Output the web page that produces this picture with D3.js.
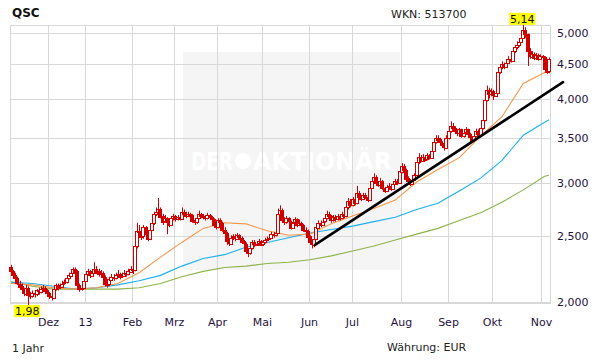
<!DOCTYPE html>
<html><head><meta charset="utf-8">
<script src="https://cdn.jsdelivr.net/npm/d3@7"></script>
<style>body{margin:0;background:#fff}svg{display:block}text{font-family:"DejaVu Sans",Verdana,sans-serif}</style>
</head><body><svg id="c" width="611" height="364"></svg>
<script>
const title = "QSC", wkn = "WKN: 513700", period = "1 Jahr", currency = "Währung: EUR";
const startDate = "2012-11-07", endDate = "2013-11-06";
const holidays = ["2012-12-24","2012-12-25","2012-12-26","2012-12-31","2013-01-01","2013-03-29","2013-04-01","2013-05-01"];
const monthLabels = ["Dez","13","Feb","Mrz","Apr","Mai","Jun","Jul","Aug","Sep","Okt","Nov"];
const yTicks = [2, 2.5, 3, 3.5, 4, 4.5, 5];
const yTickLabels = ["2,000","2,500","3,000","3,500","4,000","4,500","5,000"];
const firstOpen = 2.25;
const closes = [
2.22,2.19,2.17,2.13,2.11,2.09,2.06,2.10,2.05,2.04,
2.06,2.05,2.08,2.07,2.09,2.10,2.08,2.06,2.04,2.03,
2.09,2.12,2.10,2.11,2.13,2.14,2.17,2.19,2.21,2.24,
2.22,2.12,2.09,2.10,2.15,2.20,2.22,2.19,2.21,2.24,
2.22,2.20,2.21,2.18,2.13,2.12,2.16,2.18,2.17,2.19,
2.20,2.18,2.19,2.21,2.20,2.22,2.24,2.23,2.42,2.55,
2.55,2.50,2.58,2.52,2.48,2.56,2.62,2.70,2.72,2.75,
2.68,2.63,2.66,2.62,2.60,2.66,2.68,2.65,2.67,2.66,
2.72,2.70,2.68,2.70,2.69,2.64,2.62,2.66,2.70,2.68,
2.67,2.66,2.69,2.67,2.65,2.60,2.58,2.64,2.62,2.56,
2.53,2.46,2.44,2.49,2.50,2.48,2.51,2.49,2.46,2.44,
2.38,2.36,2.40,2.45,2.43,2.44,2.46,2.43,2.45,2.47,
2.48,2.49,2.52,2.51,2.53,2.70,2.74,2.65,2.62,2.66,
2.63,2.58,2.62,2.65,2.60,2.62,2.60,2.56,2.55,2.50,
2.45,2.43,2.48,2.58,2.62,2.60,2.63,2.66,2.70,2.68,
2.64,2.67,2.65,2.68,2.66,2.70,2.68,2.76,2.82,2.78,
2.84,2.80,2.90,2.86,2.84,2.88,2.86,2.83,2.95,3.02,
3.06,3.00,2.98,3.02,2.95,2.92,2.96,2.97,2.94,2.99,
3.02,3.00,3.12,3.18,3.14,3.05,3.02,2.99,3.03,3.08,
3.22,3.28,3.24,3.28,3.25,3.30,3.27,3.35,3.45,3.50,
3.48,3.44,3.42,3.38,3.50,3.58,3.64,3.62,3.58,3.55,
3.60,3.52,3.56,3.60,3.54,3.50,3.47,3.52,3.58,3.54,
3.62,3.72,3.98,4.12,4.06,4.10,4.04,4.08,4.38,4.45,
4.50,4.46,4.52,4.58,4.55,4.70,4.76,4.80,4.85,4.92,
5.05,4.98,4.70,4.62,4.66,4.60,4.64,4.58,4.62,4.60,
4.42,4.38,4.57];
const highs = [
2.27,2.23,2.21,2.18,2.15,2.13,2.10,2.12,2.11,2.07,
2.08,2.08,2.09,2.10,2.11,2.12,2.11,2.09,2.07,2.06,
2.10,2.13,2.13,2.13,2.15,2.16,2.19,2.21,2.23,2.25,
2.25,2.23,2.13,2.12,2.17,2.21,2.24,2.23,2.23,2.29,
2.26,2.24,2.23,2.22,2.19,2.15,2.18,2.20,2.20,2.21,
2.23,2.21,2.21,2.23,2.22,2.24,2.26,2.25,2.45,2.62,
2.60,2.57,2.60,2.59,2.54,2.58,2.65,2.72,2.76,2.85,
2.76,2.70,2.69,2.67,2.64,2.68,2.70,2.69,2.69,2.69,
2.76,2.74,2.72,2.72,2.71,2.70,2.66,2.68,2.73,2.71,
2.70,2.69,2.71,2.70,2.68,2.66,2.62,2.66,2.66,2.63,
2.58,2.54,2.48,2.51,2.52,2.52,2.53,2.52,2.50,2.47,
2.45,2.40,2.42,2.47,2.47,2.46,2.48,2.47,2.47,2.49,
2.50,2.51,2.54,2.54,2.55,2.75,2.78,2.75,2.67,2.68,
2.67,2.64,2.64,2.67,2.66,2.65,2.63,2.61,2.58,2.56,
2.51,2.47,2.50,2.60,2.64,2.64,2.65,2.68,2.73,2.72,
2.69,2.69,2.69,2.70,2.69,2.72,2.72,2.78,2.85,2.84,
2.86,2.86,2.97,2.92,2.88,2.90,2.90,2.88,2.97,3.05,
3.10,3.08,3.02,3.05,3.03,2.96,2.98,3.00,2.99,3.01,
3.04,3.04,3.15,3.21,3.20,3.15,3.07,3.04,3.05,3.10,
3.25,3.32,3.30,3.31,3.30,3.32,3.31,3.38,3.48,3.53,
3.53,3.50,3.46,3.44,3.53,3.62,3.70,3.68,3.64,3.60,
3.62,3.61,3.59,3.63,3.61,3.56,3.52,3.55,3.61,3.60,
3.65,3.76,4.02,4.18,4.15,4.14,4.12,4.12,4.42,4.50,
4.54,4.52,4.56,4.62,4.62,4.74,4.80,4.86,4.90,4.98,
5.14,5.10,4.99,4.75,4.70,4.68,4.67,4.66,4.65,4.64,
4.62,4.45,4.60];
const lows = [
2.20,2.17,2.15,2.12,2.09,2.07,2.04,2.05,1.98,2.02,
2.03,2.03,2.04,2.05,2.06,2.07,2.06,2.04,2.02,2.01,
2.02,2.08,2.08,2.09,2.10,2.12,2.13,2.16,2.18,2.20,
2.20,2.10,2.07,2.08,2.09,2.14,2.19,2.17,2.18,2.20,
2.20,2.18,2.18,2.16,2.11,2.10,2.11,2.15,2.15,2.16,
2.18,2.16,2.17,2.18,2.18,2.19,2.21,2.20,2.22,2.40,
2.50,2.47,2.48,2.49,2.46,2.47,2.55,2.60,2.68,2.70,
2.66,2.60,2.62,2.52,2.58,2.59,2.64,2.63,2.64,2.64,
2.65,2.68,2.66,2.67,2.67,2.62,2.60,2.61,2.65,2.66,
2.65,2.64,2.65,2.65,2.63,2.58,2.56,2.57,2.60,2.54,
2.50,2.43,2.42,2.43,2.47,2.46,2.47,2.47,2.44,2.41,
2.36,2.33,2.35,2.39,2.41,2.42,2.43,2.42,2.42,2.44,
2.46,2.47,2.48,2.49,2.50,2.52,2.68,2.63,2.60,2.61,
2.61,2.56,2.57,2.61,2.58,2.59,2.58,2.54,2.53,2.48,
2.43,2.40,2.41,2.47,2.57,2.58,2.59,2.62,2.65,2.66,
2.62,2.63,2.63,2.64,2.64,2.65,2.66,2.67,2.74,2.76,
2.77,2.78,2.79,2.84,2.82,2.83,2.84,2.81,2.82,2.94,
3.00,2.98,2.96,2.97,2.93,2.90,2.91,2.95,2.92,2.93,
2.98,2.98,2.99,3.10,3.10,3.02,3.00,2.97,2.98,3.02,
3.07,3.20,3.22,3.23,3.23,3.24,3.25,3.26,3.34,3.43,
3.45,3.42,3.39,3.35,3.37,3.48,3.56,3.58,3.55,3.52,
3.53,3.50,3.50,3.55,3.52,3.47,3.44,3.46,3.51,3.52,
3.53,3.60,3.70,3.96,4.00,4.03,3.98,4.02,4.06,4.35,
4.42,4.42,4.44,4.50,4.52,4.53,4.67,4.73,4.77,4.83,
4.90,4.92,4.47,4.58,4.60,4.56,4.58,4.55,4.56,4.57,
4.38,4.35,4.36];
const maDays = [0,10,20,30,40,50,60,70,80,90,100,110,120,130,140,150,160,170,180,190,200,210,220,230,240,250,252];
const ma38  = [2.13,2.12,2.10,2.09,2.10,2.13,2.21,2.33,2.45,2.57,2.62,2.61,2.55,2.51,2.52,2.61,2.68,2.75,2.83,3.01,3.14,3.27,3.52,3.76,4.21,4.37,4.38];
const ma100 = [2.14,2.13,2.11,2.09,2.10,2.12,2.15,2.19,2.26,2.32,2.35,2.41,2.45,2.49,2.53,2.56,2.59,2.63,2.67,2.74,2.80,2.92,3.05,3.24,3.53,3.69,3.72];
const ma200 = [2.14,2.11,2.09,2.09,2.09,2.09,2.10,2.13,2.18,2.22,2.25,2.26,2.28,2.29,2.31,2.34,2.38,2.42,2.47,2.52,2.57,2.64,2.71,2.81,2.93,3.07,3.08];
const trendDays = [142.9, 259.1];
const trendValues = [2.43, 4.23];

const svg = d3.select("#c");
const L = 10, R = 550, T = 25, B = 303;
const parse = d3.utcParse("%Y-%m-%d"), fmt = d3.utcFormat("%Y-%m-%d");
const days = d3.utcDays(parse(startDate), d3.utcDay.offset(parse(endDate), 1))
  .filter(d => d.getUTCDay() % 6 !== 0 && !holidays.includes(fmt(d)));
const x = d3.scaleLinear().domain([0, days.length]).range([L, R]);
const y = d3.scaleLog().domain([2, 5]).range([302, 33]);
const textCol = "#1f1240";

// watermark
svg.append("rect").attr("x", 183).attr("y", 52).attr("width", 217).attr("height", 218).attr("fill", "#f5f5f5");
svg.append("text").attr("x", 191).attr("y", 170).attr("font-size", 24).attr("font-weight", "bold")
  .attr("fill", "#fff").attr("textLength", 42).attr("lengthAdjust", "spacingAndGlyphs").text("DER");
svg.append("circle").attr("cx", 243).attr("cy", 161).attr("r", 8).attr("fill", "#fff");
svg.append("text").attr("x", 253).attr("y", 170).attr("font-size", 24).attr("font-weight", "bold")
  .attr("fill", "#fff").attr("textLength", 139).attr("lengthAdjust", "spacingAndGlyphs").text("AKTIONÄR");

// grid
const grid = svg.append("g").attr("stroke", "#d8d8d8").attr("stroke-width", 1).attr("fill", "none");
yTicks.forEach(v => {
  const yy = Math.round(y(v)) + 0.5;
  grid.append("line").attr("x1", L).attr("x2", R + 1).attr("y1", yy).attr("y2", yy);
});
const monthIdx = [];
days.forEach((d, i) => { if (i > 0 && d.getUTCMonth() !== days[i - 1].getUTCMonth()) monthIdx.push(i); });
monthIdx.forEach(i => {
  const xx = Math.round(x(i)) + 0.5;
  grid.append("line").attr("x1", xx).attr("x2", xx).attr("y1", T).attr("y2", B);
});
grid.append("rect").attr("x", L + 0.5).attr("y", T + 0.5).attr("width", R - L).attr("height", B - T);

// axis labels
monthIdx.forEach((i, k) => {
  svg.append("text").attr("x", Math.round(x(i)) + 0.5).attr("y", 326).attr("text-anchor", "middle")
    .attr("font-size", 11).attr("fill", textCol).text(monthLabels[k]);
});
yTicks.forEach((v, k) => {
  svg.append("text").attr("x", 557).attr("y", y(v) + 4).attr("font-size", 11).attr("fill", textCol).text(yTickLabels[k]);
});

// moving averages
const line = d3.line().x((d, k) => x(maDays[k] + 0.5)).y(d => y(d));
[[ma200, "#8fb24a"], [ma100, "#1ab0ef"], [ma38, "#f7964a"]].forEach(([arr, col]) => {
  svg.append("path").attr("d", line(arr)).attr("fill", "none").attr("stroke", col).attr("stroke-width", 1.1);
});

// candles
const red = "#d00000";
const cg = svg.append("g");
closes.forEach((c, i) => {
  const o = i === 0 ? firstOpen : closes[i - 1];
  const cx = Math.round(x(i + 0.5)) + 0.5;
  cg.append("line").attr("x1", cx).attr("x2", cx).attr("y1", y(highs[i])).attr("y2", y(lows[i]))
    .attr("stroke", red).attr("stroke-width", 1);
  const top = y(Math.max(o, c)), bot = y(Math.min(o, c));
  cg.append("rect").attr("x", cx - 2).attr("width", 3).attr("y", Math.round(top) + 0.5)
    .attr("height", Math.max(1, Math.round(bot - top)))
    .attr("fill", c < o ? red : "#fff").attr("stroke", red).attr("stroke-width", 1);
});

// trend line
svg.append("line").attr("x1", x(trendDays[0])).attr("y1", y(trendValues[0]))
  .attr("x2", x(trendDays[1])).attr("y2", y(trendValues[1]))
  .attr("stroke", "#000").attr("stroke-width", 2.6).attr("stroke-linecap", "round");

// min / max labels
const iMin = d3.minIndex(lows), iMax = d3.maxIndex(highs);
function badge(i, v, above) {
  const cx = x(i + 0.5) - 1, w = 26, h = 12;
  const yy = above ? y(v) - h : y(v);
  svg.append("rect").attr("x", cx - w / 2).attr("y", yy).attr("width", w).attr("height", h).attr("fill", "#ffff00");
  svg.append("text").attr("x", cx).attr("y", yy + 10).attr("text-anchor", "middle").attr("font-size", 11)
    .attr("fill", "#111").text(d3.format(".2f")(v).replace(".", ","));
}
badge(iMin, lows[iMin], false);
badge(iMax, highs[iMax], true);

// titles
svg.append("text").attr("x", 12).attr("y", 17).attr("font-size", 12).attr("font-weight", "bold").attr("fill", "#111").text(title);
svg.append("text").attr("x", 391).attr("y", 18).attr("font-size", 11).attr("fill", "#222").text(wkn);
svg.append("text").attr("x", 12).attr("y", 352).attr("font-size", 11).attr("fill", "#222").text(period);
svg.append("text").attr("x", 387).attr("y", 351).attr("font-size", 11).attr("fill", "#222").text(currency);
</script></body></html>
